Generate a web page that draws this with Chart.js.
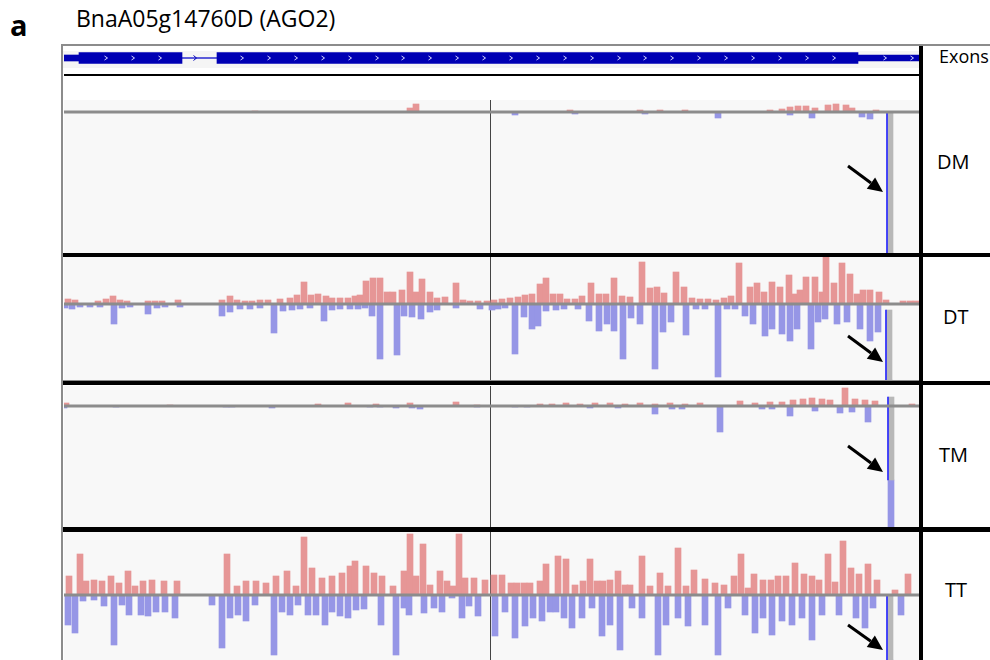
<!DOCTYPE html>
<html>
<head>
<meta charset="utf-8">
<title>BnaA05g14760D (AGO2)</title>
<script src="https://cdn.jsdelivr.net/npm/chart.js@4.4.1/dist/chart.umd.min.js"></script>
<style>
body { margin: 0; background: #fff; font-family: 'Open Sans', sans-serif; }
#page { position: relative; width: 990px; height: 660px; overflow: hidden; }
.txt { position: absolute; white-space: nowrap; color: #000; }
.rule { position: absolute; }
canvas.track { position: absolute; left: 64px; }
</style>
</head>
<body>
<div id="page">
  <div class="txt" style="left:10px;top:10px;font-size:29px;line-height:29px;font-weight:bold">a</div>
  <div class="txt" style="left:76px;top:7px;font-size:23px;line-height:23px">BnaA05g14760D (AGO2)</div>

  <!-- frame -->
  <div class="rule" style="left:61px;top:44px;width:929px;height:2px;background:#8c8c8c"></div>
  <div class="rule" style="left:61px;top:44px;width:2px;height:616px;background:#8c8c8c"></div>
  <div class="rule" style="left:63px;top:51px;width:856px;height:17px;background:#f5f5f5"></div>
  <div class="rule" style="left:64px;top:74px;width:855px;height:2px;background:#000"></div>

  <canvas class="track" id="exonTrack" width="855" height="18" style="top:49px"></canvas>
  <canvas class="track" id="dmTrack" width="855" height="153" style="top:100px;background:#f8f8f8"></canvas>
  <canvas class="track" id="dtTrack" width="855" height="123" style="top:257px;background:#f8f8f8"></canvas>
  <canvas class="track" id="tmTrack" width="855" height="141" style="top:386px;background:#f8f8f8"></canvas>
  <canvas class="track" id="ttTrack" width="855" height="128" style="top:532px;background:#f8f8f8"></canvas>

  <div class="rule" style="left:63px;top:380px;width:856px;height:1px;background:#8c8c8c"></div>
  <div class="rule" style="left:63px;top:253px;width:927px;height:4px;background:#000"></div>
  <div class="rule" style="left:63px;top:381px;width:927px;height:4px;background:#000"></div>
  <div class="rule" style="left:63px;top:527px;width:927px;height:5px;background:#000"></div>
  <div class="rule" style="left:919px;top:46px;width:4px;height:614px;background:#000"></div>

  <div class="txt" style="left:939px;top:47px;font-size:18px;line-height:18px">Exons</div>
  <div class="txt" style="left:937px;top:152px;font-size:20px;line-height:20px">DM</div>
  <div class="txt" style="left:943px;top:307px;font-size:20px;line-height:20px">DT</div>
  <div class="txt" style="left:939px;top:445px;font-size:20px;line-height:20px">TM</div>
  <div class="txt" style="left:945px;top:580px;font-size:20px;line-height:20px">TT</div>
</div>

<script>
// gene model, positions in bins along the locus (0 .. 855)
const exonUTR = [[0, 16], [794, 855]];
const exonCDS = [[15, 118], [153, 794]];
const intronSpan = [[118, 153]];
const chevronPos = [42, 69, 96, 178, 205, 232, 259, 286, 313, 339, 366, 393, 420, 447, 474, 501, 528,
    555, 581, 608, 635, 662, 689, 716, 743, 770, 821, 848];
const intronChevronPos = [131];

// DM: read depth, forward strand (up) and reverse strand (down)
const dmFwdPos = [191, 346, 352, 506, 576, 596, 621, 706, 718, 726, 734, 742, 751, 764, 772, 782, 788, 812];
const dmFwdDepth = [1, 4, 8, 2, 2, 2, 2, 2, 3, 5, 6, 6, 4, 7, 8, 7, 4, 2];
const dmRevPos = [451, 511, 581, 654, 726, 748, 798, 806];
const dmRevDepth = [3, 2, 2, 6, 3, 6, 5, 7];

// DT
const dtFwdPos = [4, 11, 34, 42, 49, 56, 63, 84, 91, 98, 114, 158, 166, 173, 181, 188, 196, 204, 216, 226,
    233, 240, 247, 254, 262, 268, 276, 284, 291, 296, 302, 309, 316, 323, 329, 338, 346, 352, 358, 366,
    373, 381, 392, 399, 406, 414, 423, 430, 438, 446, 454, 461, 468, 476, 482, 489, 496, 503, 511, 518,
    527, 535, 542, 550, 558, 566, 578, 586, 593, 600, 612, 620, 628, 636, 644, 652, 660, 667, 675, 686,
    693, 700, 708, 716, 725, 731, 736, 742, 751, 758, 762, 770, 778, 786, 793, 799, 806, 815, 822, 839,
    846, 852];
const dtFwdDepth = [5, 4, 3, 5, 8, 4, 3, 3, 3, 3, 4, 4, 8, 4, 3, 3, 4, 4, 5, 6,
    9, 22, 9, 10, 8, 6, 6, 6, 8, 9, 23, 26, 26, 12, 12, 14, 32, 12, 25, 12,
    6, 7, 21, 4, 3, 3, 3, 4, 5, 6, 7, 9, 10, 20, 26, 10, 10, 5, 5, 8,
    21, 10, 10, 26, 8, 7, 42, 16, 17, 11, 32, 17, 6, 5, 5, 4, 6, 8, 41, 17,
    21, 12, 22, 17, 29, 10, 14, 27, 27, 12, 47, 21, 41, 30, 10, 14, 14, 12, 4, 3,
    3, 3];
const dtRevPos = [1, 8, 16, 26, 36, 50, 58, 66, 84, 93, 101, 116, 158, 166, 176, 186, 196, 210, 219, 228,
    236, 246, 260, 268, 276, 286, 294, 301, 308, 316, 333, 340, 348, 357, 366, 373, 392, 416, 428, 434,
    441, 451, 460, 468, 474, 482, 492, 500, 514, 525, 535, 543, 550, 559, 567, 576, 591, 599, 607, 622,
    632, 641, 654, 663, 671, 681, 689, 701, 708, 718, 726, 733, 747, 754, 761, 773, 783, 796, 806, 814];
const dtRevDepth = [4, 5, 3, 3, 3, 20, 4, 3, 10, 4, 3, 3, 12, 8, 5, 5, 4, 29, 7, 6,
    5, 4, 17, 6, 5, 5, 5, 4, 12, 55, 51, 12, 13, 15, 8, 6, 4, 5, 6, 5,
    4, 50, 13, 25, 22, 7, 6, 5, 5, 17, 27, 20, 27, 55, 14, 20, 65, 28, 18, 31,
    5, 5, 73, 5, 5, 12, 20, 32, 25, 30, 37, 25, 45, 18, 15, 20, 18, 25, 37, 28];

// TM
const tmFwdPos = [2, 106, 254, 284, 312, 346, 392, 413, 476, 488, 502, 516, 531, 546, 561, 576, 591, 606,
    621, 636, 676, 691, 706, 718, 729, 739, 748, 758, 766, 781, 791, 801, 811, 848];
const tmFwdDepth = [3, 1, 2, 3, 2, 3, 4, 1, 2, 2, 3, 2, 3, 3, 2, 3, 2, 3,
    2, 3, 5, 3, 4, 4, 6, 7, 8, 7, 6, 18, 7, 6, 5, 2];
const tmRevPos = [0, 52, 162, 168, 208, 306, 316, 332, 348, 356, 413, 451, 463, 526, 554, 591, 608, 618,
    656, 698, 708, 726, 751, 776, 788, 804];
const tmRevDepth = [2, 1, 1, 1, 2, 1, 1, 2, 2, 3, 1, 1, 1, 2, 2, 8, 3, 3,
    26, 3, 3, 10, 5, 7, 6, 16];

// TT
const ttFwdPos = [5, 16, 22, 30, 38, 47, 55, 64, 71, 79, 88, 100, 113, 163, 173, 182, 192, 202, 212, 223,
    232, 240, 248, 258, 268, 278, 286, 291, 302, 310, 318, 329, 340, 346, 352, 359, 366, 376, 383, 389,
    395, 401, 410, 421, 430, 438, 447, 453, 460, 466, 476, 482, 494, 502, 511, 519, 526, 533, 539, 546,
    554, 561, 566, 578, 586, 596, 604, 614, 622, 630, 641, 651, 660, 670, 677, 684, 690, 699, 707, 714,
    722, 731, 740, 748, 755, 764, 771, 779, 787, 795, 804, 813, 831, 844];
const ttFwdDepth = [19, 41, 14, 15, 14, 19, 12, 24, 9, 14, 15, 14, 14, 41, 9, 14, 14, 12, 19, 24,
    9, 58, 27, 17, 19, 22, 29, 34, 29, 22, 19, 9, 24, 61, 19, 51, 10, 24, 14, 9,
    61, 17, 17, 15, 20, 20, 12, 12, 12, 12, 14, 31, 39, 36, 10, 14, 36, 14, 14, 15,
    24, 10, 10, 39, 9, 22, 9, 47, 9, 25, 16, 12, 10, 19, 41, 7, 21, 15, 15, 19,
    19, 32, 21, 19, 15, 41, 13, 54, 27, 21, 31, 15, 5, 21];
const ttRevPos = [4, 11, 19, 30, 40, 50, 58, 65, 77, 84, 92, 101, 111, 148, 158, 166, 174, 182, 191, 210,
    218, 226, 234, 244, 252, 261, 268, 276, 284, 292, 300, 317, 332, 340, 345, 360, 370, 378, 388, 398,
    405, 414, 431, 441, 451, 461, 469, 478, 486, 492, 500, 508, 518, 528, 538, 546, 556, 568, 578, 594,
    602, 614, 624, 641, 654, 664, 681, 691, 699, 708, 718, 728, 738, 748, 758, 775, 792, 801, 809, 837];
const ttRevDepth = [30, 38, 6, 5, 11, 50, 10, 20, 20, 21, 17, 17, 23, 10, 53, 23, 20, 26, 10, 60,
    17, 20, 10, 20, 20, 30, 17, 21, 23, 15, 14, 30, 60, 13, 20, 18, 13, 17, 3, 23,
    11, 21, 41, 17, 43, 31, 23, 26, 17, 17, 23, 33, 23, 13, 41, 30, 55, 13, 23, 60,
    30, 23, 31, 30, 60, 13, 20, 38, 23, 40, 26, 30, 23, 45, 20, 20, 23, 33, 13, 20];

// the deep read cluster the arrows point at (DM, DT, TM, TT)
const clusterPos = [826, 825, 827, 826];
const clusterTop = [0, -6, 9, 0];
const clusterGrayEnd = [-141, -76, -74, -65];
const clusterEnd = [-141, -76, -121, -65];

// arrow annotation, tail and head in (bin, depth)
const arrowTailPos = [784, 784, 784, 784];
const arrowTailDepth = [-54, -32, -40, -30];
const arrowHeadPos = [819, 819, 819, 819];
const arrowHeadDepth = [-80, -58, -66, -55];

const centerPos = 426;
const fwdColor = 'rgb(230,150,150)';
const revColor = 'rgb(150,150,230)';

let toPoints = (pos, vals, sign) => pos.map((p, i) => ({x: p, y: sign * vals[i]}));

let barSet = (data, color, thickness) => ({
    data: data,
    backgroundColor: color,
    barThickness: thickness,
    grouped: false,
    borderWidth: 0
});

let trackDecor = {
    id: 'trackDecor',
    beforeDatasetsDraw: (chart) => {
        let ctx = chart.ctx, area = chart.chartArea;
        let cx = Math.round(chart.scales.x.getPixelForValue(centerPos)) + 0.5;
        ctx.save();
        ctx.strokeStyle = '#444';
        ctx.lineWidth = 1;
        ctx.beginPath();
        ctx.moveTo(cx, area.top);
        ctx.lineTo(cx, area.bottom);
        ctx.stroke();
        ctx.restore();
    },
    afterDatasetsDraw: (chart, args, opts) => {
        let ctx = chart.ctx, area = chart.chartArea;
        let xs = chart.scales.x, ys = chart.scales.y;
        let y0 = ys.getPixelForValue(0);
        ctx.save();
        // strand baseline
        ctx.fillStyle = '#8c8c8c';
        ctx.fillRect(area.left, y0 - 1.5, area.right - area.left, 3);
        // arrow
        let k = opts.k;
        let x1 = xs.getPixelForValue(arrowTailPos[k]), y1 = ys.getPixelForValue(arrowTailDepth[k]);
        let x2 = xs.getPixelForValue(arrowHeadPos[k]), y2 = ys.getPixelForValue(arrowHeadDepth[k]);
        let ang = Math.atan2(y2 - y1, x2 - x1);
        let headLen = 15, headHalf = 7;
        let bx = x2 - headLen * Math.cos(ang), by = y2 - headLen * Math.sin(ang);
        ctx.strokeStyle = '#000';
        ctx.fillStyle = '#000';
        ctx.lineWidth = 3;
        ctx.beginPath();
        ctx.moveTo(x1, y1);
        ctx.lineTo(bx, by);
        ctx.stroke();
        ctx.beginPath();
        ctx.moveTo(x2, y2);
        ctx.lineTo(bx + headHalf * Math.sin(ang), by - headHalf * Math.cos(ang));
        ctx.lineTo(bx - headHalf * Math.sin(ang), by + headHalf * Math.cos(ang));
        ctx.closePath();
        ctx.fill();
        ctx.restore();
    }
};

let exonDecor = {
    id: 'exonDecor',
    afterDatasetsDraw: (chart) => {
        let ctx = chart.ctx;
        let xs = chart.scales.x, ys = chart.scales.y;
        let cy = ys.getPixelForValue(0);
        ctx.save();
        ctx.lineWidth = 1;
        ctx.strokeStyle = '#d8d8ff';
        chevronPos.forEach(p => {
            let x = xs.getPixelForValue(p);
            ctx.beginPath();
            ctx.moveTo(x - 1.5, cy - 2);
            ctx.lineTo(x + 1.5, cy);
            ctx.lineTo(x - 1.5, cy + 2);
            ctx.stroke();
        });
        ctx.strokeStyle = '#0000b4';
        intronChevronPos.forEach(p => {
            let x = xs.getPixelForValue(p);
            ctx.beginPath();
            ctx.moveTo(x - 1.5, cy - 2.5);
            ctx.lineTo(x + 1.5, cy);
            ctx.lineTo(x - 1.5, cy + 2.5);
            ctx.stroke();
        });
        ctx.restore();
    }
};

let baseOptions = (yMin, yMax) => ({
    responsive: false,
    animation: false,
    events: [],
    layout: {padding: 0},
    plugins: {legend: {display: false}, tooltip: {enabled: false}},
    scales: {
        x: {type: 'linear', min: 0, max: 855, display: false, offset: false},
        y: {type: 'linear', min: yMin, max: yMax, display: false}
    }
});

let plotExonTrack = () => {
    let spans = (list) => list.map(s => ({x: s, y: 0}));
    let options = baseOptions(-1, 1);
    options.indexAxis = 'y';
    new Chart(document.getElementById('exonTrack'), {
        type: 'bar',
        data: {
            datasets: [
                barSet(spans(exonCDS), '#0000b4', 11),
                barSet(spans(exonUTR), '#0000b4', 6),
                barSet(spans(intronSpan), '#2a2ad0', 1)
            ]
        },
        options: options,
        plugins: [exonDecor]
    });
};

let plotPileupTrack = (canvasId, k, fwdPos, fwdDepth, revPos, revDepth, yMin, yMax) => {
    let options = baseOptions(yMin, yMax);
    options.plugins.trackDecor = {k: k};
    new Chart(document.getElementById(canvasId), {
        type: 'bar',
        data: {
            datasets: [
                barSet([{x: clusterPos[k] - 3, y: [clusterTop[k], clusterGrayEnd[k]]}], '#2a2aff', 1),
                barSet(toPoints(revPos, revDepth, -1), revColor, 6),
                barSet(toPoints(fwdPos, fwdDepth, 1), fwdColor, 6),
                barSet([{x: clusterPos[k], y: [clusterTop[k], clusterGrayEnd[k]]}], '#b8b8b8', 6),
                barSet([{x: clusterPos[k], y: [clusterGrayEnd[k], clusterEnd[k]]}], revColor, 6)
            ]
        },
        options: options,
        plugins: [trackDecor]
    });
};

plotExonTrack();
plotPileupTrack('dmTrack', 0, dmFwdPos, dmFwdDepth, dmRevPos, dmRevDepth, -141, 12);
plotPileupTrack('dtTrack', 1, dtFwdPos, dtFwdDepth, dtRevPos, dtRevDepth, -76, 47);
plotPileupTrack('tmTrack', 2, tmFwdPos, tmFwdDepth, tmRevPos, tmRevDepth, -121, 20);
plotPileupTrack('ttTrack', 3, ttFwdPos, ttFwdDepth, ttRevPos, ttRevDepth, -65, 63);
</script>
</body>
</html>
